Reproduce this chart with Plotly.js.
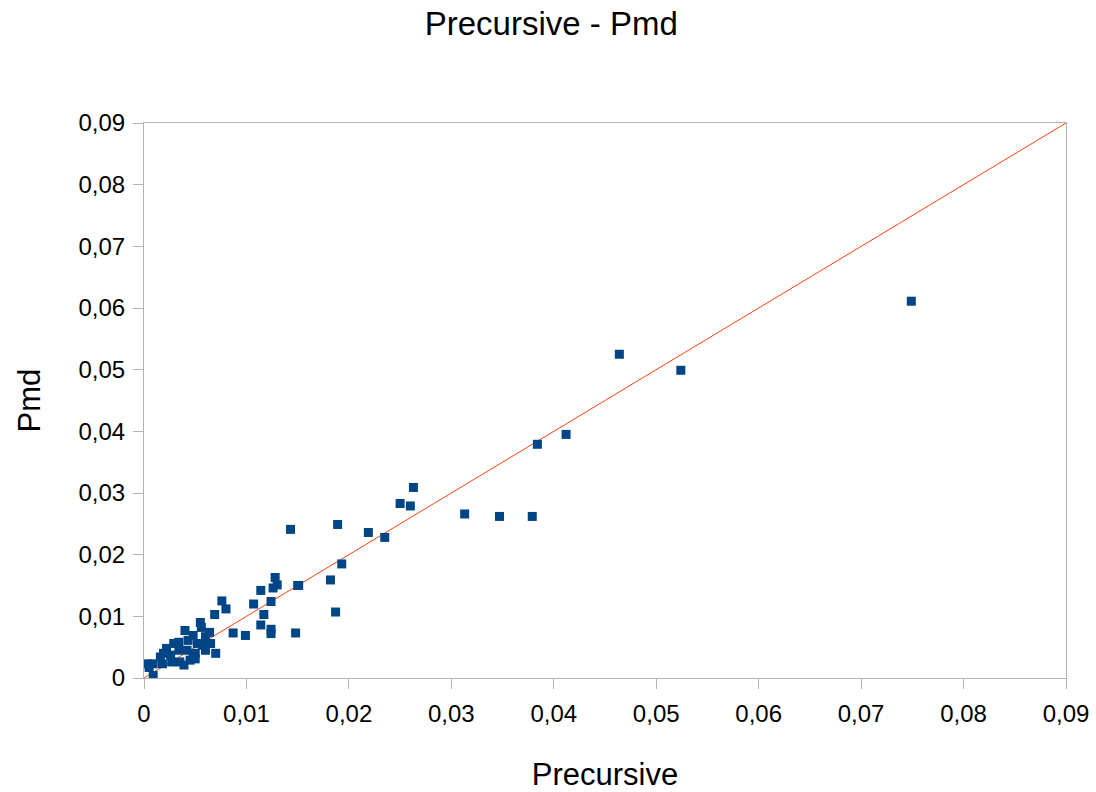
<!DOCTYPE html>
<html>
<head>
<meta charset="utf-8">
<script src="https://cdn.plot.ly/plotly-3.0.1.min.js"></script>
<style>html,body{margin:0;padding:0;background:#fff;}#chart{width:1096px;height:792px;}</style>
</head>
<body>
<div id="chart"></div>
<script>
// Scatter data: Precursive (x) vs Pmd (y)
const precursive = [
  0.0749, 0.0464, 0.0524, 0.0412, 0.0384,
  0.0263, 0.0250, 0.0260, 0.0219, 0.0235,
  0.0313, 0.0347, 0.0379,
  0.0189, 0.0143, 0.0193, 0.0182, 0.0187,
  0.0128, 0.0130, 0.0126, 0.0150, 0.0151, 0.0114, 0.0124, 0.0107, 0.0117,
  0.0114, 0.0124, 0.0124, 0.0087, 0.0099, 0.0148,
  0.0076, 0.0080, 0.0069, 0.0055, 0.0056, 0.0040, 0.0048, 0.0064, 0.0060,
  0.0065, 0.0057, 0.0050, 0.0070, 0.0050, 0.0052, 0.0034, 0.0029, 0.0022,
  0.0019, 0.0042, 0.0048, 0.0035, 0.0027, 0.0018, 0.0009, 0.0003, 0.0005,
  0.0039, 0.0009, 0.0026, 0.0034, 0.0043, 0.0045, 0.0016, 0.0060
];
const pmd = [
  0.0611, 0.0525, 0.0499, 0.0395, 0.0379,
  0.0309, 0.0283, 0.0279, 0.0236, 0.0228,
  0.0266, 0.0262, 0.0262,
  0.0249, 0.0241, 0.0185, 0.0159, 0.0107,
  0.0163, 0.0151, 0.0146, 0.0150, 0.0150, 0.0142, 0.0124, 0.0120, 0.0103,
  0.0086, 0.0079, 0.0072, 0.0073, 0.0069, 0.0073,
  0.0125, 0.0112, 0.0103, 0.0090, 0.0082, 0.0077, 0.0069, 0.0074, 0.0067,
  0.0056, 0.0053, 0.0040, 0.0040, 0.0031, 0.0056, 0.0058, 0.0056, 0.0048,
  0.0040, 0.0045, 0.0034, 0.0026, 0.0026, 0.0023, 0.0023, 0.0023, 0.0017,
  0.0021, 0.0004, 0.0037, 0.0045, 0.0061, 0.0029, 0.0034, 0.0045
];
// Reference line y = x
const lineX = [0, 0.09];
const lineY = [0, 0.09];
const tickVals = [0, 0.01, 0.02, 0.03, 0.04, 0.05, 0.06, 0.07, 0.08, 0.09];
const tickText = ['0', '0,01', '0,02', '0,03', '0,04', '0,05', '0,06', '0,07', '0,08', '0,09'];

const font = 'Liberation Sans, Arial, sans-serif';
const axisCommon = {
  range: [0, 0.09],
  tickvals: tickVals,
  ticktext: tickText,
  showgrid: false,
  zeroline: false,
  showline: true,
  mirror: true,
  linecolor: '#b3b3b3',
  linewidth: 1,
  ticks: 'outside',
  ticklen: 10,
  tickcolor: '#b3b3b3',
  tickwidth: 1,
  tickfont: {family: font, size: 24, color: '#000'},
  fixedrange: true
};

const data = [
  {
    x: lineX, y: lineY, type: 'scatter', mode: 'lines',
    line: {color: '#ff420e', width: 1},
    hoverinfo: 'skip', showlegend: false
  },
  {
    x: precursive, y: pmd, type: 'scatter', mode: 'markers',
    marker: {symbol: 'square', size: 9, color: '#004586', line: {width: 0}},
    showlegend: false
  }
];

const layout = {
  width: 1096, height: 792,
  paper_bgcolor: '#ffffff', plot_bgcolor: '#ffffff',
  margin: {l: 144, r: 30, t: 123, b: 114},
  title: {text: 'Precursive - Pmd', font: {family: font, size: 33, color: '#000'}, x: 0.503, xanchor: 'center', y: 0.97, yanchor: 'middle'},
  xaxis: Object.assign({}, axisCommon, {
    ticklabelstandoff: 4,
    title: {text: 'Precursive', font: {family: font, size: 31, color: '#000'}, standoff: 38}
  }),
  yaxis: Object.assign({}, axisCommon, {
    ticklabelstandoff: 3,
    title: {text: 'Pmd', font: {family: font, size: 31, color: '#000'}, standoff: 28}
  }),
  showlegend: false
};

Plotly.newPlot('chart', data, layout, {displayModeBar: false, staticPlot: true});
</script>
</body>
</html>
